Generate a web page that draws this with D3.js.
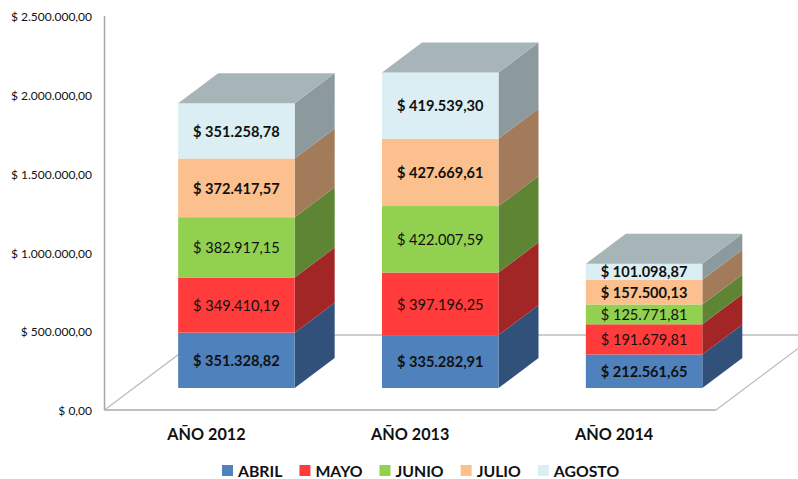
<!DOCTYPE html>
<html><head><meta charset="utf-8">
<script src="https://cdn.jsdelivr.net/npm/d3@7"></script>
<style>html,body{margin:0;padding:0;background:#fff}svg{display:block}text{font-family:Lato,"Open Sans",sans-serif;fill:#111}</style>
</head><body><svg id="c" width="798" height="479"></svg>
<script>
const years = ["AÑO 2012","AÑO 2013","AÑO 2014"];
const months = ["ABRIL","MAYO","JUNIO","JULIO","AGOSTO"];
const abril = [351328.82,335282.91,212561.65];
const mayo = [349410.19,397196.25,191679.81];
const junio = [382917.15,422007.59,125771.81];
const julio = [372417.57,427669.61,157500.13];
const agosto = [351258.78,419539.30,101098.87];
const yTicks = [0,500000,1000000,1500000,2000000,2500000];
const frontColors = ["#4F81BD","#FF3B3B","#92D050","#FCC08E","#DAEEF3"];
const sideColors = ["#31517A","#A32626","#5E8533","#A27B5A","#8D9A9D"];
const topColor = "#A7B5B9";
const boldLabels = [true,false,false,true,true];

const svg = d3.select("#c");
const left=104.5,right=716,base=410,topY=16;
const depth={x:100,y:-75};
const x=d3.scaleBand().domain(years).range([left,right]);
const y=d3.scaleLinear().domain([0,2500000]).range([base,topY]);
const fmt=v=>"$ "+d3.formatLocale({decimal:",",thousands:".",grouping:[3],currency:["",""]}).format(",.2f")(v);

// floor
const line=d3.line();
svg.append("path").attr("d",line([[left,base],[left+depth.x,base+depth.y],[798,base+depth.y]]))
  .attr("fill","none").attr("stroke","#BDBDBD").attr("stroke-width",1.3);
svg.append("path").attr("d",line([[right,base],[right+depth.x,base+depth.y]]))
  .attr("fill","none").attr("stroke","#BDBDBD").attr("stroke-width",1.3);
// axes
svg.append("path").attr("d",line([[left,topY],[left,base]])).attr("fill","none").attr("stroke","#A6A6A6").attr("stroke-width",1.5);
svg.append("path").attr("d",line([[left,base],[right,base]])).attr("fill","none").attr("stroke","#ABABAB").attr("stroke-width",1.6);

svg.selectAll("text.yt").data(yTicks).join("text").attr("class","yt")
  .attr("x",92).attr("y",d=>y(d)+1).attr("dy","0.35em").attr("text-anchor","end")
  .attr("font-size",12).text(d=>d===0?"$ 0,00":fmt(d));

const series=[abril,mayo,junio,julio,agosto];
const stack=d3.stack().keys(d3.range(5)).value((d,k)=>series[k][d])(d3.range(3));
const ox=30,oy=-22,dx=40,dy=-30;
const barW=116.5;
years.forEach((yr,i)=>{
  const x0=x(yr)+x.bandwidth()/2-barW/2+ox, x1=x0+barW;
  const g=svg.append("g");
  stack.forEach((s,k)=>{
    const yb=y(s[i][0])+oy, yt=y(s[i][1])+oy;
    g.append("path").attr("fill",sideColors[k])
      .attr("d",line([[x1,yb],[x1+dx,yb+dy],[x1+dx,yt+dy],[x1,yt]])+"Z");
    g.append("rect").attr("x",x0).attr("width",barW).attr("y",yt).attr("height",yb-yt)
      .attr("fill",frontColors[k]);
  });
  const yt=y(stack[4][i][1])+oy;
  g.append("path").attr("fill",topColor)
    .attr("d",line([[x0,yt],[x0+dx,yt+dy],[x1+dx,yt+dy],[x1,yt]])+"Z");
  stack.forEach((s,k)=>{
    const yb=y(s[i][0])+oy, yt2=y(s[i][1])+oy;
    g.append("text").attr("x",(x0+x1)/2).attr("y",(yb+yt2)/2+0.5).attr("dy","0.36em")
      .attr("text-anchor","middle").attr("font-size",14.6)
      .attr("font-weight",boldLabels[k]?700:400).text(fmt(series[k][i]));
  });
  svg.append("text").attr("x",x(yr)+x.bandwidth()/2).attr("y",434).attr("dy","0.36em")
    .attr("text-anchor","middle").attr("font-size",16.2).attr("font-weight",700).text(yr);
});

// legend
let lx=222;
months.forEach((m,k)=>{
  svg.append("rect").attr("x",lx).attr("y",465).attr("width",11).attr("height",11).attr("fill",frontColors[k]);
  const t=svg.append("text").attr("x",lx+16).attr("y",471).attr("dy","0.36em")
    .attr("font-size",15.8).attr("font-weight",700).text(m);
  lx+=16+t.node().getComputedTextLength()+17;
});
</script></body></html>
